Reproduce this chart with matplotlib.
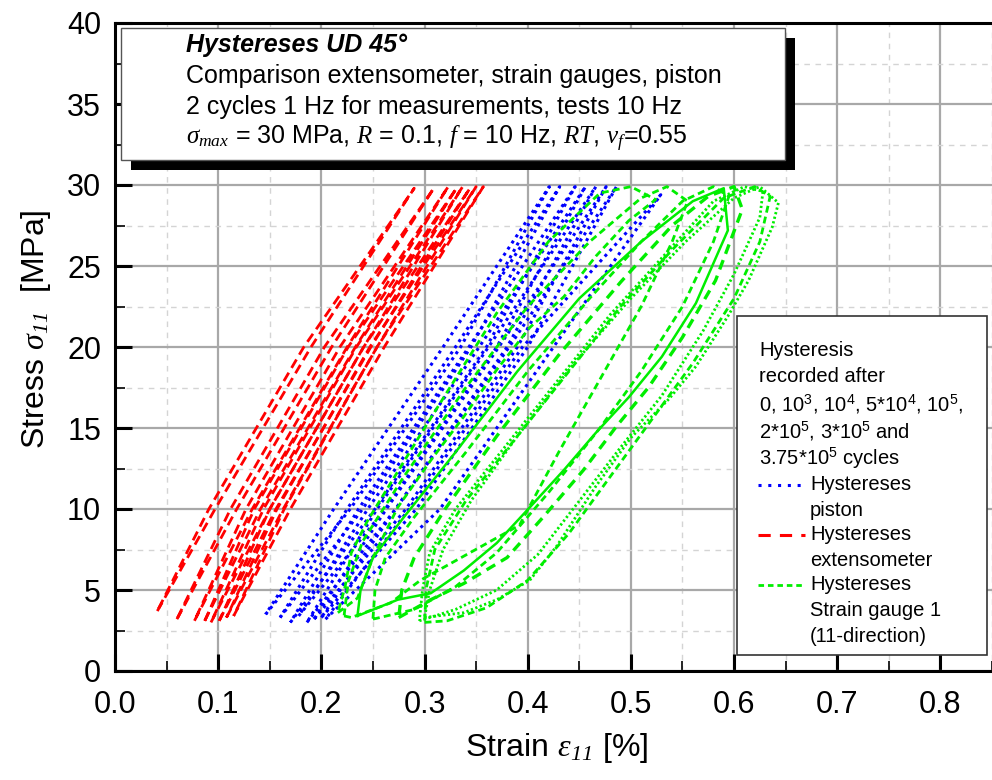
import matplotlib
matplotlib.use("Agg")
import matplotlib.pyplot as plt
from matplotlib.patches import Rectangle
from matplotlib.lines import Line2D

plt.rcParams['font.family'] = ['Liberation Sans', 'DejaVu Sans']
plt.rcParams['mathtext.fontset'] = 'custom'
plt.rcParams['mathtext.rm'] = 'Liberation Sans'
plt.rcParams['mathtext.sf'] = 'Liberation Sans'
plt.rcParams['mathtext.it'] = 'Liberation Serif:italic'
plt.rcParams['mathtext.cal'] = 'Liberation Serif:italic'   # italic serif digits for subscripts
plt.rcParams['mathtext.bf'] = 'Liberation Sans:bold'

# ---- data (strain in %, stress in MPa), one closed loop per recorded cycle ----
# extensometer (red)
red_x = [
    [0.041, 0.097, 0.190, 0.290, 0.183, 0.091, 0.041],
    [0.060, 0.118, 0.210, 0.309, 0.203, 0.112, 0.060],
    [0.077, 0.133, 0.225, 0.323, 0.218, 0.127, 0.077],
    [0.087, 0.141, 0.233, 0.331, 0.226, 0.135, 0.087],
    [0.093, 0.150, 0.241, 0.337, 0.234, 0.144, 0.093],
    [0.101, 0.156, 0.248, 0.344, 0.241, 0.150, 0.101],
    [0.108, 0.163, 0.254, 0.350, 0.247, 0.157, 0.108],
    [0.115, 0.170, 0.261, 0.357, 0.254, 0.164, 0.115],
]
red_y = [
    [3.7, 10, 20, 29.8, 20, 10, 3.7],
    [3.2, 10, 20, 29.8, 20, 10, 3.2],
    [3.1, 10, 20, 29.9, 20, 10, 3.1],
    [3.1, 10, 20, 29.8, 20, 10, 3.1],
    [3.0, 10, 20, 29.9, 20, 10, 3.0],
    [3.1, 10, 20, 29.8, 20, 10, 3.1],
    [3.3, 10, 20, 29.9, 20, 10, 3.3],
    [3.4, 10, 20, 29.9, 20, 10, 3.4],
]

# piston (blue)
blue_x = [
    [0.146, 0.228, 0.335, 0.421, 0.318, 0.212, 0.146],
    [0.160, 0.240, 0.345, 0.431, 0.330, 0.225, 0.160],
    [0.170, 0.252, 0.360, 0.446, 0.343, 0.236, 0.170],
    [0.178, 0.262, 0.370, 0.456, 0.353, 0.245, 0.178],
    [0.186, 0.272, 0.380, 0.466, 0.362, 0.254, 0.186],
    [0.193, 0.282, 0.390, 0.476, 0.372, 0.263, 0.193],
    [0.200, 0.292, 0.400, 0.486, 0.382, 0.272, 0.200],
    [0.204, 0.315, 0.425, 0.529, 0.395, 0.285, 0.204],
]
blue_y = [
    [3.5, 10, 20, 29.9, 20, 10, 3.5],
    [3.3, 10, 20, 29.9, 20, 10, 3.3],
    [3.0, 10, 20, 29.9, 20, 10, 3.0],
    [3.4, 10, 20, 29.9, 20, 10, 3.4],
    [3.0, 10, 20, 29.9, 20, 10, 3.0],
    [3.2, 10, 20, 29.9, 20, 10, 3.2],
    [3.3, 10, 20, 29.9, 20, 10, 3.3],
    [3.2, 10, 20, 29.4, 20, 10, 3.2],
]

# strain gauge 1 (green): lower-right branch, top, upper-left branch
green_x = [
    [0.216, 0.235, 0.250, 0.274, 0.306, 0.338, 0.370, 0.402, 0.435, 0.466, 0.498, 0.524, 0.500,
     0.470, 0.420, 0.370, 0.300, 0.245, 0.229, 0.223, 0.216],
    [0.222, 0.229, 0.267, 0.296, 0.344, 0.392, 0.430, 0.470, 0.510, 0.540, 0.555, 0.535,
     0.510, 0.460, 0.400, 0.340, 0.280, 0.240, 0.226, 0.222],
    [0.235, 0.274, 0.306, 0.338, 0.370, 0.402, 0.435, 0.466, 0.498, 0.530, 0.563, 0.594, 0.590,
     0.560, 0.510, 0.450, 0.390, 0.330, 0.280, 0.250, 0.238, 0.235],
    [0.250, 0.290, 0.330, 0.370, 0.420, 0.470, 0.510, 0.550, 0.580, 0.595, 0.580,
     0.550, 0.510, 0.460, 0.400, 0.340, 0.290, 0.262, 0.252, 0.250],
    [0.275, 0.306, 0.338, 0.380, 0.415, 0.454, 0.486, 0.517, 0.550, 0.582, 0.608, 0.600,
     0.575, 0.540, 0.490, 0.430, 0.370, 0.320, 0.290, 0.278, 0.275],
    [0.295, 0.330, 0.370, 0.410, 0.450, 0.490, 0.530, 0.570, 0.600, 0.625, 0.628, 0.610,
     0.580, 0.530, 0.480, 0.430, 0.380, 0.330, 0.305, 0.298, 0.295],
    [0.300, 0.322, 0.360, 0.400, 0.440, 0.480, 0.520, 0.560, 0.600, 0.625, 0.635, 0.620,
     0.590, 0.540, 0.490, 0.440, 0.390, 0.340, 0.310, 0.302, 0.300],
    [0.300, 0.338, 0.370, 0.402, 0.428, 0.466, 0.500, 0.537, 0.563, 0.594, 0.614, 0.637, 0.643,
     0.625, 0.600, 0.553, 0.500, 0.445, 0.390, 0.345, 0.318, 0.305, 0.300],
]
green_y = [
    [3.6, 4.5, 7.0, 10.1, 13.0, 15.7, 18.6, 21.2, 23.1, 25.6, 27.8, 29.1, 29.9,
     29.5, 26.5, 22.1, 15.0, 9.3, 7.3, 5.2, 3.6],
    [3.4, 3.3, 4.2, 5.6, 7.3, 9.0, 13.5, 18.0, 22.5, 26.5, 29.0, 29.9,
     29.2, 26.5, 22.5, 17.5, 12.0, 8.0, 5.5, 3.4],
    [3.4, 4.4, 4.8, 6.2, 7.9, 10.1, 12.4, 14.7, 16.9, 19.4, 22.7, 27.2, 29.8,
     29.0, 26.5, 23.0, 18.5, 13.5, 9.5, 7.0, 5.0, 3.4],
    [3.2, 3.8, 5.2, 7.3, 11.0, 15.0, 18.5, 22.5, 26.5, 29.3, 29.9,
     29.0, 26.5, 23.0, 18.5, 13.5, 9.5, 7.0, 5.0, 3.2],
    [3.3, 4.4, 5.4, 7.0, 9.5, 12.4, 15.1, 17.5, 20.6, 24.1, 28.5, 29.9,
     29.3, 27.5, 24.0, 19.5, 14.5, 10.0, 7.0, 5.0, 3.3],
    [3.1, 3.8, 5.0, 7.2, 10.5, 13.8, 17.0, 21.0, 24.5, 28.0, 29.6, 29.9,
     29.0, 25.5, 22.0, 18.0, 14.0, 10.0, 7.3, 5.0, 3.1],
    [3.0, 3.1, 3.9, 5.6, 8.5, 12.0, 15.5, 19.0, 23.0, 26.5, 29.3, 29.9,
     29.2, 26.0, 22.5, 18.5, 14.5, 10.5, 7.5, 5.2, 3.0],
    [3.3, 3.6, 4.4, 5.6, 7.7, 11.4, 14.4, 16.8, 18.8, 21.9, 24.1, 27.4, 28.9,
     29.9, 29.2, 26.5, 23.0, 19.0, 14.5, 10.5, 7.5, 5.0, 3.3],
]
green_style = ['dash', 'dash', 'solid', 'dash', 'bigdash', 'dot', 'dash', 'dot']

x_ticks = [0.0, 0.1, 0.2, 0.3, 0.4, 0.5, 0.6, 0.7, 0.8]
y_ticks = [0, 5, 10, 15, 20, 25, 30, 35, 40]

# ---- figure ----
W, H = 992, 780
fig = plt.figure(figsize=(W / 100, H / 100), dpi=100)
ax = fig.add_axes([115 / W, 1 - 671 / H, 877 / W, 648 / H])
ax.set_xlim(0, 877 / 1040)
ax.set_ylim(0, 40)

for xs, ys in zip(red_x, red_y):
    ax.plot(xs, ys, color='#ff0000', lw=2.0, linestyle=(0, (3.5, 2.0)))
for xs, ys in zip(blue_x, blue_y):
    ax.plot(xs, ys, color='#0000ff', lw=2.2, linestyle=(0, (1.0, 1.4)))
styles = {'dash': dict(lw=2.0, linestyle=(0, (2.5, 1.5))),
          'bigdash': dict(lw=2.4, linestyle=(0, (3.0, 2.0))),
          'dot': dict(lw=2.0, linestyle=(0, (0.8, 0.9))),
          'solid': dict(lw=1.8, linestyle='-')}
for xs, ys, st in zip(green_x, green_y, green_style):
    ax.plot(xs, ys, color='#00ee00', **styles[st])

ax.set_xticks(x_ticks)
ax.set_xticklabels(['%.1f' % v for v in x_ticks])
ax.set_yticks(y_ticks)
ax.set_xticks([0.05 + 0.1 * i for i in range(9)], minor=True)
ax.set_yticks([2.5 + 5 * i for i in range(8)], minor=True)
ax.grid(which='major', color='#a8a8a8', lw=1.6, zorder=0)
ax.grid(which='minor', color='#d4d4d4', lw=1.0, linestyle=(0, (4, 4)))
ax.set_axisbelow(True)
ax.tick_params(which='major', direction='in', length=12, width=2.2, pad=10)
ax.tick_params(which='minor', direction='in', length=7, width=1.2)
ax.tick_params(axis='x', which='major', pad=14)
for lab in ax.get_xticklabels() + ax.get_yticklabels():
    lab.set_fontsize(22)
ax.spines['right'].set_visible(False)
for s in ['left', 'bottom', 'top']:
    ax.spines[s].set_linewidth(2.2)

fig.text(557 / W, 1 - 748 / H, r'Strain $\varepsilon_{\mathcal{11}}$ [%]', fontsize=23,
         ha='center', va='center')
fig.text(36 / W, 1 - 329 / H, r'Stress $\sigma_{\mathcal{11}}$  [MPa]', fontsize=23,
         ha='center', va='center', rotation=90)

# ---- overlay in pixel coordinates for the boxes ----
ov = fig.add_axes([0, 0, 1, 1], zorder=5)
ov.set_xlim(0, W)
ov.set_ylim(H, 0)
ov.axis('off')

ov.add_patch(Rectangle((131, 38), 664, 132, facecolor='black', edgecolor='none'))
ov.add_patch(Rectangle((121, 28), 664, 132, facecolor='white', edgecolor='#555555', lw=1))
ov.text(186, 45, 'Hystereses UD 45°', fontsize=18, fontweight='bold', fontstyle='italic',
        va='center')
ov.text(186, 76, 'Comparison extensometer, strain gauges, piston', fontsize=18, va='center')
ov.text(186, 107, '2 cycles 1 Hz for measurements, tests 10 Hz', fontsize=18, va='center')
ov.text(186, 139, r'$\sigma_{max}$ = 30 MPa, $R$ = 0.1, $f$ = 10 Hz, $RT$, $v_f$=0.55',
        fontsize=18, va='center')

ov.add_patch(Rectangle((737, 316), 250, 339, facecolor='white', edgecolor='#333333', lw=1.2))
head = ['Hysteresis', 'recorded after',
        r'0, 10$^3$, 10$^4$, 5*10$^4$, 10$^5$,',
        r'2*10$^5$, 3*10$^5$ and',
        r'3.75*10$^5$ cycles']
for i, t in enumerate(head):
    ov.text(759, 350 + 27 * i, t, fontsize=14.5, va='center')
entries = [('#0000ff', (0, (1.0, 2.2)), 2.2, 'Hystereses\npiston', 485),
           ('#ff0000', (0, (4.0, 3.0)), 2.2, 'Hystereses\nextensometer', 535),
           ('#00ee00', (0, (2.0, 1.4)), 2.0, 'Hystereses\nStrain gauge 1\n(11-direction)', 585)]
for col, ls, lw, lab, yy in entries:
    ov.add_line(Line2D([758, 805], [yy, yy], color=col, linestyle=ls, lw=lw))
    for j, line in enumerate(lab.split('\n')):
        ov.text(810, yy + 25.5 * j, line, fontsize=14.5, va='center')

fig.savefig('out.png', dpi=100)
